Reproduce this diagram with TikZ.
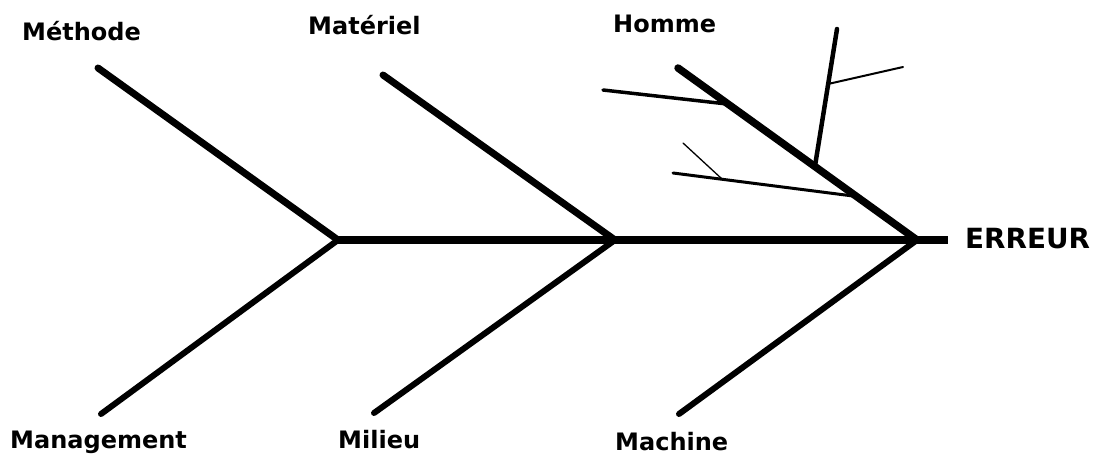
\documentclass[tikz,border=0pt]{standalone}
\usepackage{fontspec}
\setmainfont{DejaVu Sans}
\begin{document}
\begin{tikzpicture}[x=1pt,y=-1pt,
  spine/.style={line width=8pt, line cap=butt},
  upbone/.style={line width=7pt, line cap=round, line join=round},
  lowbone/.style={line width=6pt, line cap=round, line join=round},
  subbone/.style={line width=4pt, line cap=round},
  twig/.style={line width=2pt, line cap=round},
  fine/.style={line width=1.3pt, line cap=round},
  lbl/.style={anchor=base west, inner sep=0pt, font=\fontsize{24}{28}\selectfont\bfseries},
  effect/.style={anchor=base west, inner sep=0pt, font=\fontsize{27.8}{32}\selectfont\bfseries}]
\useasboundingbox (0,0) rectangle (1094,454);
% joints on the spine
\coordinate (j1) at (338,240);
\coordinate (j2) at (615,240);
\coordinate (j3) at (917,240);
\coordinate (tail) at (948,240);
% branch ends
\coordinate (methodeEnd) at (98,68);
\coordinate (materielEnd) at (383,75);
\coordinate (hommeEnd) at (678,68);
\coordinate (managementEnd) at (101,414);
\coordinate (milieuEnd) at (374,413);
\coordinate (machineEnd) at (679,414);
% spine
\draw[spine] (j1) -- (tail);
% bones
\draw[upbone] (methodeEnd) -- (j1);
\draw[upbone] (materielEnd) -- (j2);
\draw[upbone, line width=7.5pt] (hommeEnd) -- (j3);
\draw[lowbone] (j1) -- (managementEnd);
\draw[lowbone] (j2) -- (milieuEnd);
\draw[lowbone] (j3) -- (machineEnd);
% sub-causes on Homme
\coordinate (s1a) at (603,90);
\coordinate (s1b) at (727,104);
\coordinate (va) at (837,29);
\coordinate (vb) at (815,166);
\coordinate (vva) at (828,84);
\coordinate (vvb) at (903,67);
\coordinate (s2a) at (673,173);
\coordinate (s2b) at (853,196);
\coordinate (s2sa) at (683,143);
\coordinate (s2sb) at (722,179);
\draw[subbone, line width=3.5pt] (s1a) -- (s1b);
\draw[subbone, line width=4.5pt] (va) -- (vb);
\draw[twig] (vva) -- (vvb);
\draw[subbone, line width=3pt] (s2a) -- (s2b);
\draw[fine] (s2sa) -- (s2sb);
% labels
\node[lbl] (methode) at (22,41) {Méthode};
\node[lbl] (materiel) at (308,35) {Matériel};
\node[lbl] (homme) at (613,33) {Homme};
\node[lbl] (management) at (10,448) {Management};
\node[lbl] (milieu) at (338,448) {Milieu};
\node[lbl] (machine) at (615,450) {Machine};
\node[effect] (erreur) at (965,248) {ERREUR};
\end{tikzpicture}
\end{document}
